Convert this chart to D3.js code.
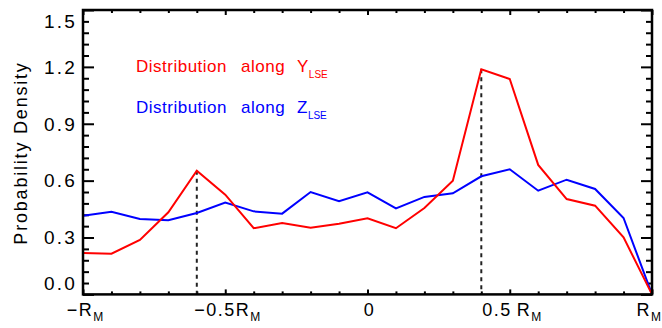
<!DOCTYPE html>
<html>
<head>
<meta charset="utf-8">
<script src="https://cdn.jsdelivr.net/npm/d3@7"></script>
<style>
  body { margin: 0; background: #fff; }
  text { font-family: "Liberation Sans", Arial, sans-serif; }
</style>
</head>
<body>
<svg width="662" height="328"></svg>
<script>
// positions along the axis, in units of R_M
const positions = [-1, -0.9, -0.8, -0.7, -0.6, -0.5, -0.4, -0.3, -0.2, -0.1, 0,
  0.1, 0.2, 0.3, 0.4, 0.5, 0.6, 0.7, 0.8, 0.9, 1];
// probability density along Y_LSE (red) and Z_LSE (blue)
const alongY = [0.218, 0.215, 0.287, 0.433, 0.652, 0.526, 0.349, 0.377, 0.352, 0.373, 0.401,
  0.349, 0.456, 0.600, 1.187, 1.136, 0.683, 0.503, 0.468, 0.301, 0.0];
const alongZ = [0.415, 0.436, 0.398, 0.391, 0.429, 0.484, 0.438, 0.426, 0.540, 0.491, 0.538,
  0.454, 0.514, 0.533, 0.623, 0.660, 0.547, 0.605, 0.556, 0.403, 0.0];
// peaks of the red curve, marked with dotted lines
const peaks = [-0.6, 0.4];

const yTicks = [0, 0.3, 0.6, 0.9, 1.2, 1.5];
const yTickLabels = ["0.0", "0.3", "0.6", "0.9", "1.2", "1.5"];
const xTicks = [-1, -0.5, 0, 0.5, 1];
const xTickLabels = [["\u2212R", "M"], ["\u22120.5R", "M"], ["0", ""], ["0.5\u2009R", "M"], ["R", "M"]];

const svg = d3.select("svg");
const plotLeft = 83, plotRight = 652, plotTop = 10, plotBottom = 294.4;

const x = d3.scaleLinear().domain([-1, 1]).range([plotLeft, plotRight]);
const y = d3.scaleLinear().domain([0, 1.5]).range([plotBottom, plotTop]);

const xMinor = d3.range(-10, 11).map(d => d / 10).filter(d => !xTicks.includes(d));
const yMinor = d3.range(0, 26).map(d => +(d * 0.06).toFixed(2)).filter(d => !yTicks.includes(d));

// ticks, all pointing inwards
function ticks(axis, at, values, size) {
  const g = svg.append("g")
    .attr("transform", at)
    .call(axis.tickValues(values).tickSize(-size).tickFormat(""));
  g.select(".domain").remove();
  g.selectAll("line").attr("stroke", "#000").attr("stroke-width", 2);
  return g;
}
ticks(d3.axisBottom(x), `translate(0,${plotBottom})`, xTicks, 5);
ticks(d3.axisBottom(x), `translate(0,${plotBottom})`, xMinor, 3);
ticks(d3.axisTop(x), `translate(0,${plotTop})`, xTicks, 5);
ticks(d3.axisTop(x), `translate(0,${plotTop})`, xMinor, 3);
ticks(d3.axisLeft(y), `translate(${plotLeft},0)`, yTicks, 11);
ticks(d3.axisLeft(y), `translate(${plotLeft},0)`, yMinor, 6);
ticks(d3.axisRight(y), `translate(${plotRight},0)`, yTicks, 11);
ticks(d3.axisRight(y), `translate(${plotRight},0)`, yMinor, 6);

// y tick labels (end labels sit one minor step inside, like the original)
svg.append("g")
  .selectAll("text")
  .data(yTicks)
  .enter()
  .append("text")
  .attr("x", plotLeft - 6)
  .attr("y", (d, i) => {
    let p = y(d);
    if (i === 0) p = y(0.06);
    if (i === yTicks.length - 1) p = y(1.44);
    return p;
  })
  .attr("dy", "0.36em")
  .attr("text-anchor", "end")
  .attr("font-size", 19)
  .attr("letter-spacing", 2.2)
  .text((d, i) => yTickLabels[i]);

// x tick labels with subscript M
const xl = svg.append("g")
  .selectAll("text")
  .data(xTicks)
  .enter()
  .append("text")
  .attr("x", (d, i) => i === xTicks.length - 1 ? 661 : x(d) + 2)
  .attr("y", 316)
  .attr("text-anchor", (d, i) => i === xTicks.length - 1 ? "end" : "middle")
  .attr("font-size", 18)
  .attr("letter-spacing", 1.5);
xl.append("tspan").text((d, i) => xTickLabels[i][0]);
xl.append("tspan")
  .attr("dy", 5)
  .attr("font-size", 12)
  .attr("letter-spacing", 0)
  .text((d, i) => xTickLabels[i][1]);

// dotted markers at the red peaks
svg.append("g")
  .selectAll("line")
  .data(peaks)
  .enter()
  .append("line")
  .attr("x1", d => x(d))
  .attr("x2", d => x(d))
  .attr("y1", d => y(alongY[positions.findIndex(p => Math.abs(p - d) < 1e-9)]))
  .attr("y2", y(0))
  .attr("stroke", "#222")
  .attr("stroke-width", 2)
  .attr("stroke-dasharray", "4,4");

const line = d3.line()
  .x((d, i) => x(positions[i]))
  .y(d => y(d));

svg.append("path")
  .attr("d", line(alongZ))
  .attr("fill", "none")
  .attr("stroke", "#0000ff")
  .attr("stroke-width", 2);

svg.append("path")
  .attr("d", line(alongY))
  .attr("fill", "none")
  .attr("stroke", "#ff0000")
  .attr("stroke-width", 2);

// frame
svg.append("rect")
  .attr("x", plotLeft)
  .attr("y", plotTop)
  .attr("width", plotRight - plotLeft)
  .attr("height", plotBottom - plotTop)
  .attr("fill", "none")
  .attr("stroke", "#000")
  .attr("stroke-width", 2.5);

// y axis title
svg.append("text")
  .attr("transform", `translate(27,153) rotate(-90)`)
  .attr("text-anchor", "middle")
  .attr("font-size", 18)
  .attr("letter-spacing", 1.8)
  .text("Probability Density");

// legend
const legend = [
  { color: "#ff0000", axis: "Y", baseline: 72 },
  { color: "#0000ff", axis: "Z", baseline: 113 }
];
const lg = svg.append("g")
  .selectAll("text")
  .data(legend)
  .enter()
  .append("text")
  .attr("y", d => d.baseline)
  .attr("fill", d => d.color)
  .attr("font-size", 17)
  .attr("letter-spacing", 0.5);
lg.append("tspan").attr("x", 136).text("Distribution");
lg.append("tspan").attr("x", 241).text("along");
lg.append("tspan").attr("x", 297).text(d => d.axis);
lg.append("tspan")
  .attr("dy", 6)
  .attr("font-size", 10)
  .attr("letter-spacing", 0)
  .text("LSE");
</script>
</body>
</html>
